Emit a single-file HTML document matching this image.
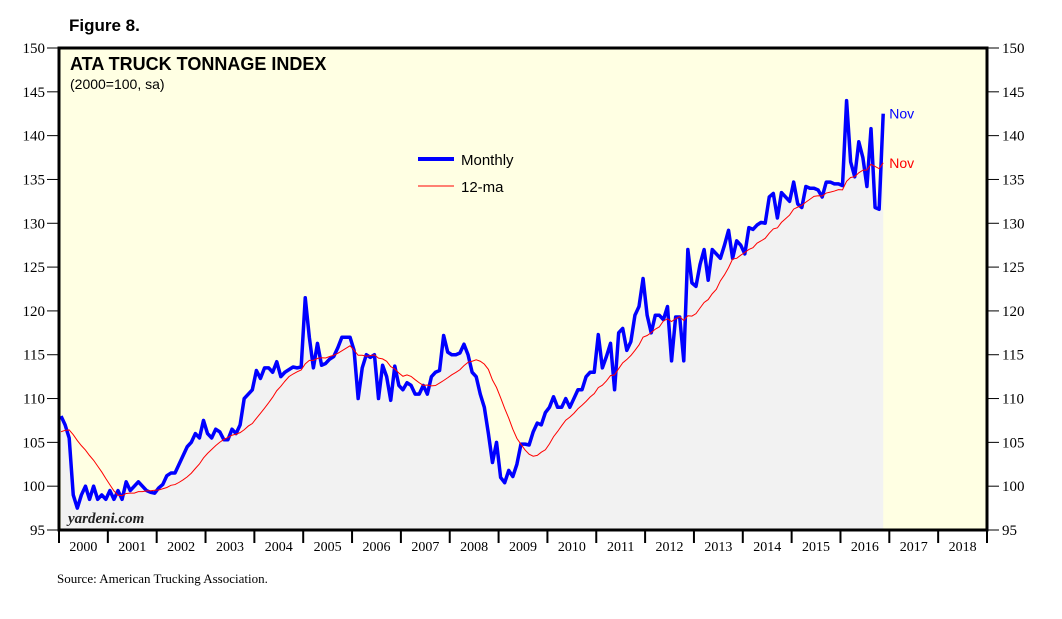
<!DOCTYPE html>
<html><head><meta charset="utf-8"><style>
body{margin:0;background:#fff;}
svg text{font-family:"Liberation Serif",serif;}
</style></head><body>
<svg id="chart" width="1062" height="614" viewBox="0 0 1062 614" xmlns="http://www.w3.org/2000/svg">
<text x="69" y="31" font-family="Liberation Sans" font-weight="bold" font-size="17" style="font-family:'Liberation Sans',sans-serif">Figure 8.</text>
<rect x="59" y="48" width="928" height="482" fill="#ffffe3"/>
<g id="marks"></g>
<rect x="59" y="48" width="928" height="482" fill="none" stroke="#000" stroke-width="3"/>
<text x="70" y="70" font-weight="bold" font-size="18" style="font-family:'Liberation Sans',sans-serif">ATA TRUCK TONNAGE INDEX</text>
<text x="70" y="89" font-size="14" style="font-family:'Liberation Sans',sans-serif">(2000=100, sa)</text>
<line x1="418" y1="159" x2="454" y2="159" stroke="#0000ff" stroke-width="4"/>
<text x="461" y="165" font-size="15" style="font-family:'Liberation Sans',sans-serif">Monthly</text>
<line x1="418" y1="186" x2="454" y2="186" stroke="#ff0000" stroke-width="1"/>
<text x="461" y="192" font-size="15" style="font-family:'Liberation Sans',sans-serif">12-ma</text>
<text x="68" y="523" font-size="15" font-style="italic" font-weight="bold" fill="#222">yardeni.com</text>
<text x="57" y="583" font-size="13">Source: American Trucking Association.</text>
<g id="axes"></g>
</svg>
<script>
const yTicks=[95,100,105,110,115,120,125,130,135,140,145,150];
const years=["2000","2001","2002","2003","2004","2005","2006","2007","2008","2009","2010","2011","2012","2013","2014","2015","2016","2017","2018"];
const prior1999=[104.5,105,105,105.5,105.5,106,106,106,106.5,106.5,107,107.5];
const monthly=[
108,107,105.5,99,97.5,99,100,98.5,100,98.5,99,98.5,
99.5,98.5,99.5,98.5,100.5,99.5,100,100.5,100,99.5,99.3,99.2,
99.8,100.2,101.2,101.5,101.5,102.5,103.5,104.5,105,106,105.5,107.5,
106,105.5,106.5,106.2,105.3,105.3,106.5,106,107,110,110.5,111,
113.2,112.3,113.5,113.5,113,114.2,112.5,113,113.3,113.6,113.5,113.6,
121.5,117,113.5,116.3,113.8,114,114.5,114.8,115.8,117,117,117,
115.5,110,113.5,115,114.7,115,110,113.8,112.5,109.8,113.7,111.5,
111,111.8,111.5,110.5,110.5,111.5,110.5,112.5,113,113.2,117.2,115.3,
115,115,115.2,116.2,115,113,112.5,110.5,109,106,102.7,105,
101,100.4,101.8,101.1,102.5,104.8,104.8,104.7,106.2,107.2,107,108.4,
109,110.2,109,109,110,109,110,111,111,112.5,113,113,
117.3,113.5,114.8,116.3,111,117.5,118,115.5,116.5,119.5,120.5,123.7,
119.5,117.5,119.5,119.5,119,120.5,114.3,119.3,119.3,114.3,127,123.2,
122.8,125.3,127,123.5,127,126.5,126,127.5,129.2,126,128,127.5,
126.5,129.5,129.3,129.8,130.1,130,133,133.4,130.6,133.5,133,132.5,
134.7,132.2,131.8,134.2,134,134,133.8,133,134.7,134.7,134.5,134.5,
134.3,144,137,135.3,139.3,137.5,134.2,140.8,131.8,131.6,142.5];
const NS="http://www.w3.org/2000/svg";
const L=59,R=987,T=48,B=530,yMin=95,yMax=150,nYears=19;
const yw=(R-L)/nYears;
function xM(m){return L+(m+0.5)*yw/12;}
function yV(v){return B-(v-yMin)/(yMax-yMin)*(B-T);}
function mk(tag,attrs,parent){const e=document.createElementNS(NS,tag);for(const k in attrs)e.setAttribute(k,attrs[k]);parent.appendChild(e);return e;}
const marks=document.getElementById('marks'),axes=document.getElementById('axes');
let d="M"+xM(0)+","+B;
monthly.forEach((v,i)=>{d+=" L"+xM(i).toFixed(2)+","+yV(v).toFixed(2);});
d+=" L"+xM(monthly.length-1)+","+B+" Z";
const area=mk('path',{d:d,fill:'#f2f2f2',stroke:'none'},marks);


const all=prior1999.concat(monthly);
let ma=[];
for(let i=0;i<monthly.length;i++){let s=0;for(let j=i+1;j<=i+12;j++)s+=all[j];ma.push(s/12);}
const mline=mk('polyline',{points:monthly.map((v,i)=>xM(i).toFixed(2)+","+yV(v).toFixed(2)).join(" "),fill:'none',stroke:'#0000ff','stroke-width':3.5,'stroke-linejoin':'round'},marks);


const maline=mk('polyline',{points:ma.map((v,i)=>xM(i).toFixed(2)+","+yV(v).toFixed(2)).join(" "),fill:'none',stroke:'#ff0000','stroke-width':1},marks);


const last=monthly.length-1;
const n1=mk('text',{x:xM(last)+6,y:yV(monthly[last])+5,fill:'#0000ff','font-size':14,style:"font-family:'Liberation Sans',sans-serif"},marks);n1.textContent="Nov";


const n2=mk('text',{x:xM(last)+6,y:yV(ma[last])+5,fill:'#ff0000','font-size':14,style:"font-family:'Liberation Sans',sans-serif"},marks);n2.textContent="Nov";


yTicks.forEach(v=>{
 const y=yV(v);
 mk('line',{x1:47,y1:y,x2:L,y2:y,stroke:'#000','stroke-width':1},axes);
 mk('line',{x1:R,y1:y,x2:R+12,y2:y,stroke:'#000','stroke-width':1},axes);
 const t1=mk('text',{x:45,y:y+5,'text-anchor':'end','font-size':15},axes);t1.textContent=v;
 
 
 const t2=mk('text',{x:1002,y:y+5,'font-size':15},axes);t2.textContent=v;
 
 
});
years.forEach((yr,i)=>{
 const x0=L+i*yw;
 mk('line',{x1:x0,y1:B,x2:x0,y2:B+13,stroke:'#000','stroke-width':2},axes);
 const t=mk('text',{x:x0+yw/2,y:B+21,'text-anchor':'middle','font-size':14},axes);t.textContent=yr;
 
 
});
mk('line',{x1:R,y1:B,x2:R,y2:B+13,stroke:'#000','stroke-width':2},axes);
</script>
</body></html>
